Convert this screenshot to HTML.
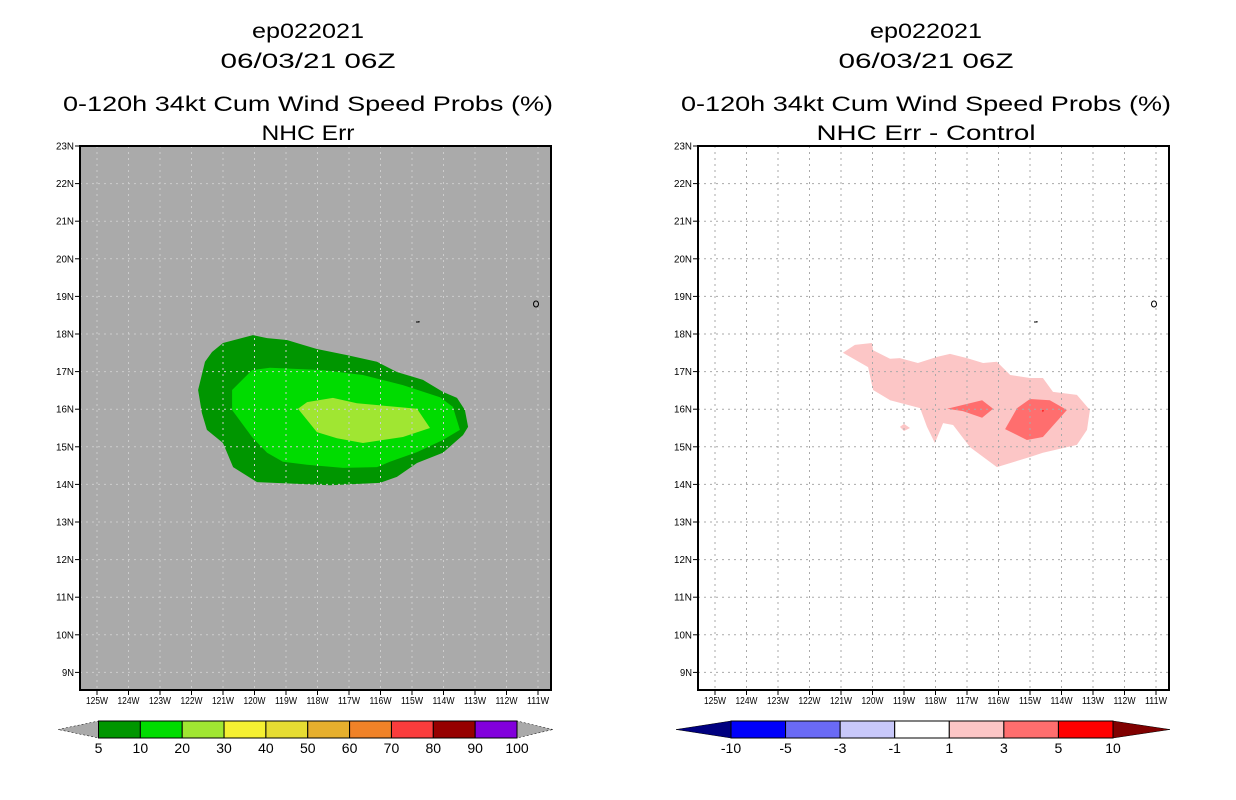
<!DOCTYPE html>
<html><head><meta charset="utf-8"><style>
body{margin:0;background:#fff;}
svg{display:block;font-family:"Liberation Sans",sans-serif;}
</style></head><body>
<svg id="s" width="1236" height="800" viewBox="0 0 1236 800"></svg>
<script>
const lonTicks=[125,124,123,122,121,120,119,118,117,116,115,114,113,112,111];
const latTicks=[23,22,21,20,19,18,17,16,15,14,13,12,11,10,9];
const probLevels=["5","10","20","30","40","50","60","70","80","90","100"];
const probColors=["#009600","#00dc00","#a0e632","#f5f032","#e6dc32","#e6af2d","#f08228","#fa3c3c","#960000","#8200dc"];
const diffLevels=["-10","-5","-3","-1","1","3","5","10"];
const diffColors=["#0000fa","#6a6af5","#c8c8fa","#ffffff","#fcc6c6","#ff6e6e","#ff0000"];
const probOuter=[[121.79,16.51],[121.57,17.26],[121.35,17.52],[121.0,17.76],[120.05,17.97],[119.6,17.89],[118.97,17.84],[118.46,17.71],[118.02,17.6],[117.06,17.44],[116.11,17.26],[115.48,16.99],[114.65,16.78],[114.02,16.46],[113.57,16.3],[113.32,15.98],[113.22,15.53],[113.38,15.31],[114.02,14.84],[114.84,14.57],[115.48,14.2],[116.02,14.04],[117.6,13.98],[119.92,14.06],[120.68,14.46],[121.0,15.1],[121.51,15.45],[121.67,15.9]];
const prob10=[[120.71,16.51],[120.08,17.04],[119.51,17.1],[117.83,17.04],[116.56,16.91],[115.29,16.64],[114.11,16.32],[113.7,16.06],[113.48,15.45],[114.02,15.18],[114.84,14.86],[115.7,14.6],[116.11,14.46],[117.19,14.44],[118.33,14.52],[119.1,14.6],[119.6,14.84],[120.08,15.26],[120.71,15.98]];
const prob20=[[118.62,16.01],[118.33,16.19],[117.51,16.3],[116.75,16.16],[114.84,16.01],[114.43,15.5],[115.29,15.26],[116.56,15.1],[117.38,15.23],[118.02,15.39]];
const diff1=[[120.94,17.5],[120.56,17.71],[120.02,17.76],[119.98,17.57],[119.44,17.34],[119.13,17.36],[118.56,17.23],[117.95,17.39],[117.54,17.47],[117.0,17.36],[116.49,17.23],[116.05,17.26],[115.63,16.91],[115.0,16.83],[114.59,16.83],[114.27,16.46],[113.51,16.38],[113.1,15.98],[113.19,15.45],[113.51,15.05],[114.59,14.84],[115.0,14.73],[116.05,14.46],[116.9,14.99],[117.44,15.58],[117.76,15.63],[118.02,15.1],[118.27,15.53],[118.49,16.03],[119.44,16.24],[119.98,16.51],[120.14,17.12]];
const diff1b=[[119.13,15.53],[119.0,15.61],[118.81,15.5],[119.0,15.42]];
const diff3a=[[117.63,16.01],[116.52,16.24],[116.17,16.01],[116.52,15.77],[117.13,15.95]];
const diff3b=[[115.79,15.47],[115.41,16.03],[115.0,16.27],[114.37,16.24],[113.83,15.98],[114.59,15.26],[115.1,15.18]];
const diff5=[[114.62,15.97],[114.56,15.97],[114.59,15.92]];

const S=document.getElementById('s');const NS='http://www.w3.org/2000/svg';
function mk(t,a,p){const e=document.createElementNS(NS,t);for(const k in a)e.setAttribute(k,a[k]);(p||S).appendChild(e);return e;}
function panel(off,bg,gridCol,name){
  const X=lon=>off+97+(125-lon)*31.5, Y=lat=>146+(23-lat)*37.6;
  const g=mk('g',{});
  
  
  mk('rect',{x:off+80,y:146,width:471,height:544,fill:bg},g);
  return {g,X,Y};
}
function poly(P,pts,fill,name){
  const e=mk('polygon',{points:pts.map(p=>P.X(p[0]).toFixed(1)+','+P.Y(p[1]).toFixed(1)).join(' '),fill:fill},P.g);
  
  
}
function finish(P,off,gridCol){
  lonTicks.forEach(l=>{const x=P.X(l);
    mk('line',{x1:x,y1:146,x2:x,y2:690,stroke:gridCol,'stroke-width':1,'stroke-dasharray':'2,4'},P.g);
    mk('line',{x1:x,y1:690,x2:x,y2:695,stroke:'#000'},P.g);
    const t=mk('text',{x:x,y:704,'font-size':10,'text-anchor':'middle',textLength:22,lengthAdjust:'spacingAndGlyphs'},P.g);t.textContent=l+'W';
    
    });
  latTicks.forEach(l=>{const y=P.Y(l);
    mk('line',{x1:off+80,y1:y,x2:off+551,y2:y,stroke:gridCol,'stroke-width':1,'stroke-dasharray':'2,4'},P.g);
    mk('line',{x1:off+75,y1:y,x2:off+80,y2:y,stroke:'#000'},P.g);
    const t=mk('text',{x:off+74,y:y+3.5,'font-size':10,'text-anchor':'end',textLength:l>9?18:12,lengthAdjust:'spacingAndGlyphs'},P.g);t.textContent=l+'N';
    
    });
  mk('path',{d:`M${off+416} 322 h3 v-1`,stroke:'#000',fill:'none'},P.g);
  mk('ellipse',{cx:off+536,cy:304,rx:2.5,ry:3,stroke:'#000',fill:'none'},P.g);
  mk('rect',{x:off+80,y:146,width:471,height:544,fill:'none',stroke:'#000','stroke-width':2},P.g);
}
function titles(cx,sub,subW,name){
  [['ep022021',38,112],['06/03/21 06Z',68,175],['0-120h 34kt Cum Wind Speed Probs (%)',111,490],[sub,140,subW]].forEach((a,i)=>{
    const t=mk('text',{x:cx,y:a[1],'font-size':21,'text-anchor':'middle',textLength:a[2],lengthAdjust:'spacingAndGlyphs'});t.textContent=a[0];
    
    });
}
// left
const L=panel(0,'#aaaaaa','#c8c8c8','prob-map');
poly(L,probOuter,probColors[0],'contour-5-10');
poly(L,prob10,probColors[1],'contour-10-20');
poly(L,prob20,probColors[2],'contour-20-30');
finish(L,0,'#cccccc');
titles(308,'NHC Err',93,'left');
// right
const R=panel(618,'#ffffff','#aaaaaa','diff-map');
poly(R,diff1,diffColors[4],'contour-1-3');
poly(R,diff1b,diffColors[4],'contour-1-3-small');
poly(R,diff3a,diffColors[5],'contour-3-5-west');
poly(R,diff3b,diffColors[5],'contour-3-5-east');
poly(R,diff5,diffColors[6],'contour-5-10');
finish(R,618,'#aaaaaa');
titles(926,'NHC Err - Control',219,'right');
// colorbars
function cbar(x0,x1,tipL,tipR,cols,labs,lc,rc,name){
  const g=mk('g',{});
  
  
  const w=(x1-x0)/cols.length;
  mk('polygon',{points:`${tipL},729.5 ${x0},721 ${x0},738`,fill:lc,stroke:'#000','stroke-width':0.5,'stroke-dasharray':lc=='#aaaaaa'?'2,2':''},g);
  mk('polygon',{points:`${tipR},729.5 ${x1},721 ${x1},738`,fill:rc,stroke:'#000','stroke-width':0.5,'stroke-dasharray':rc=='#aaaaaa'?'2,2':''},g);
  cols.forEach((c,i)=>{mk('rect',{x:x0+i*w,y:721,width:w,height:17,fill:c,stroke:'#000','stroke-width':1},g);});
  labs.forEach((l,i)=>{const t=mk('text',{x:x0+i*w,y:753,'font-size':14,'text-anchor':'middle'},g);t.textContent=l;
    
    });
}
cbar(98.5,517,58,553,probColors,probLevels,'#aaaaaa','#aaaaaa','prob-colorbar');
cbar(731,1113,676,1170,diffColors,diffLevels,'#000080','#800000','diff-colorbar');
</script>
</body></html>
